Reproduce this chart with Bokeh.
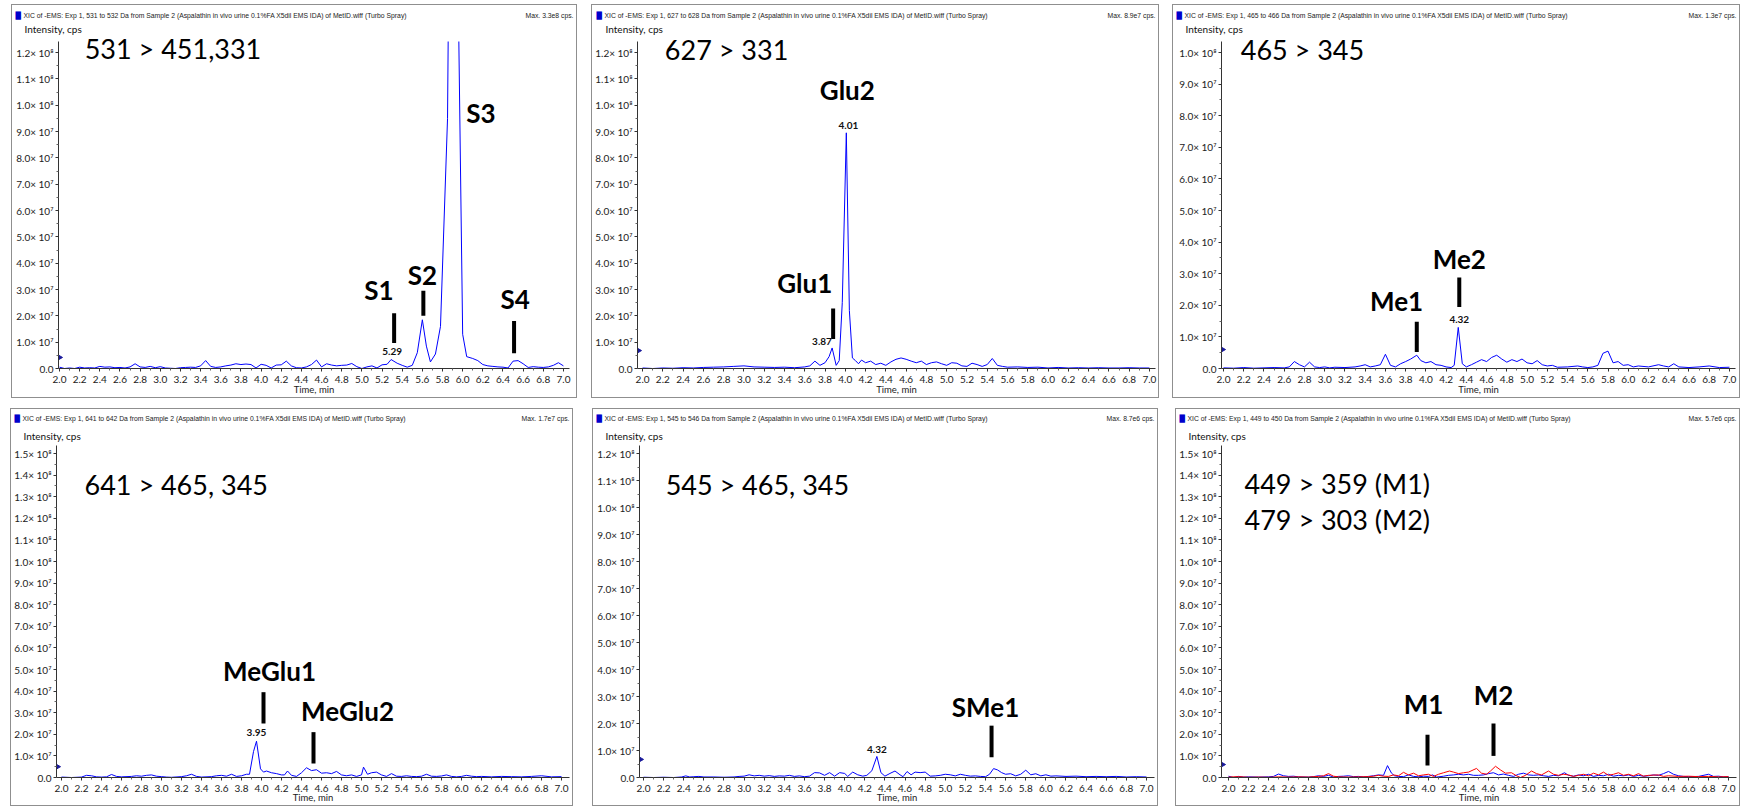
import math
from bokeh.plotting import figure
from bokeh.models import FixedTicker, PrintfTickFormatter
from bokeh.layouts import row, column
from bokeh.embed import file_html
from bokeh.resources import INLINE
from bokeh.core.properties import value

FONT = "Lato"
SMALL_FONT = "Liberation Sans"

# ---------------- data: (retention time [min], intensity [1e7 cps]) ----------------
S_TRACE = [(2.00, 0.05), (2.05, 0.00), (2.10, 0.02), (2.15, 0.00), (2.20, 0.05), (2.25, 0.02),
           (2.30, 0.03), (2.35, 0.02), (2.40, 0.08), (2.45, 0.05), (2.50, 0.06), (2.55, 0.03),
           (2.60, 0.04), (2.65, 0.02), (2.70, 0.06), (2.75, 0.18), (2.80, 0.06), (2.85, 0.04),
           (2.90, 0.08), (2.95, 0.03), (3.00, 0.07), (3.05, 0.02), (3.10, 0.01), (3.15, 0.00),
           (3.20, 0.03), (3.25, 0.04), (3.30, 0.05), (3.35, 0.04), (3.40, 0.10), (3.45, 0.30),
           (3.50, 0.08), (3.55, 0.04), (3.60, 0.06), (3.65, 0.10), (3.70, 0.13), (3.75, 0.18),
           (3.80, 0.15), (3.85, 0.17), (3.90, 0.15), (3.95, 0.02), (4.00, 0.16), (4.05, 0.12),
           (4.10, 0.02), (4.15, 0.13), (4.20, 0.14), (4.25, 0.28), (4.30, 0.10), (4.35, 0.03),
           (4.40, 0.02), (4.45, 0.06), (4.50, 0.15), (4.55, 0.32), (4.60, 0.06), (4.65, 0.18),
           (4.70, 0.13), (4.75, 0.10), (4.80, 0.12), (4.85, 0.13), (4.90, 0.19), (4.95, 0.07),
           (5.00, 0.00), (5.05, 0.06), (5.10, 0.10), (5.15, 0.02), (5.20, 0.14), (5.25, 0.16),
           (5.29, 0.34), (5.35, 0.20), (5.40, 0.12), (5.45, 0.05), (5.50, 0.12), (5.55, 0.60),
           (5.60, 1.85), (5.64, 0.85), (5.68, 0.25), (5.73, 0.55), (5.78, 1.60), (5.85, 9.50),
           (5.90, 33.0), (5.96, 13.0), (6.00, 1.30), (6.04, 0.45), (6.10, 0.38), (6.15, 0.30),
           (6.20, 0.15), (6.25, 0.10), (6.30, 0.08), (6.35, 0.06), (6.40, 0.05), (6.45, 0.02),
           (6.50, 0.28), (6.55, 0.30), (6.60, 0.18), (6.65, 0.04), (6.70, 0.07), (6.75, 0.05),
           (6.80, 0.04), (6.85, 0.06), (6.90, 0.12), (6.95, 0.22), (7.00, 0.10)]

GLU_TRACE = [(2.00, 0.02), (2.10, 0.00), (2.20, 0.02), (2.30, 0.01), (2.40, 0.03), (2.50, 0.02),
             (2.60, 0.04), (2.70, 0.05), (2.80, 0.06), (2.90, 0.08), (3.00, 0.10), (3.10, 0.06),
             (3.20, 0.05), (3.30, 0.04), (3.40, 0.05), (3.50, 0.03), (3.60, 0.06), (3.65, 0.10),
             (3.70, 0.28), (3.75, 0.12), (3.80, 0.22), (3.84, 0.45), (3.87, 0.78), (3.91, 0.12),
             (3.94, 0.30), (3.97, 2.50), (4.01, 8.95), (4.04, 2.20), (4.07, 0.40), (4.10, 0.30),
             (4.13, 0.18), (4.16, 0.32), (4.20, 0.22), (4.25, 0.28), (4.30, 0.15), (4.35, 0.20),
             (4.40, 0.12), (4.45, 0.25), (4.50, 0.35), (4.55, 0.40), (4.60, 0.35), (4.65, 0.28),
             (4.70, 0.22), (4.75, 0.28), (4.80, 0.15), (4.85, 0.22), (4.90, 0.25), (4.95, 0.18),
             (5.00, 0.12), (5.05, 0.22), (5.10, 0.20), (5.15, 0.10), (5.20, 0.08), (5.25, 0.20),
             (5.30, 0.15), (5.35, 0.08), (5.40, 0.15), (5.45, 0.38), (5.50, 0.12), (5.55, 0.08),
             (5.60, 0.05), (5.70, 0.06), (5.80, 0.04), (5.90, 0.05), (6.00, 0.02), (6.10, 0.04),
             (6.20, 0.02), (6.30, 0.03), (6.40, 0.02), (6.50, 0.03), (6.60, 0.02), (6.70, 0.02),
             (6.80, 0.03), (6.90, 0.02), (7.00, 0.02)]

ME_TRACE = [(2.00, 0.02), (2.10, 0.01), (2.20, 0.03), (2.30, 0.01), (2.40, 0.02), (2.50, 0.03),
            (2.60, 0.02), (2.65, 0.05), (2.70, 0.22), (2.75, 0.12), (2.80, 0.05), (2.85, 0.20),
            (2.90, 0.05), (2.95, 0.03), (3.00, 0.05), (3.05, 0.02), (3.10, 0.04), (3.20, 0.03),
            (3.30, 0.05), (3.35, 0.08), (3.40, 0.12), (3.45, 0.05), (3.50, 0.08), (3.55, 0.12),
            (3.60, 0.45), (3.65, 0.10), (3.70, 0.05), (3.75, 0.15), (3.80, 0.22), (3.85, 0.30),
            (3.91, 0.42), (3.95, 0.25), (4.00, 0.18), (4.05, 0.22), (4.10, 0.12), (4.15, 0.10),
            (4.20, 0.05), (4.25, 0.03), (4.28, 0.10), (4.32, 1.30), (4.36, 0.15), (4.40, 0.05),
            (4.45, 0.12), (4.50, 0.20), (4.55, 0.28), (4.60, 0.22), (4.65, 0.35), (4.70, 0.42),
            (4.75, 0.30), (4.80, 0.20), (4.85, 0.28), (4.90, 0.22), (4.95, 0.30), (5.00, 0.18),
            (5.05, 0.15), (5.10, 0.25), (5.15, 0.12), (5.20, 0.08), (5.25, 0.10), (5.30, 0.04),
            (5.40, 0.05), (5.50, 0.08), (5.55, 0.05), (5.60, 0.03), (5.65, 0.05), (5.70, 0.10),
            (5.75, 0.48), (5.80, 0.55), (5.85, 0.18), (5.90, 0.22), (5.95, 0.10), (6.00, 0.12),
            (6.05, 0.05), (6.10, 0.08), (6.20, 0.05), (6.30, 0.12), (6.35, 0.08), (6.40, 0.05),
            (6.45, 0.15), (6.50, 0.05), (6.60, 0.03), (6.70, 0.05), (6.80, 0.08), (6.90, 0.03),
            (7.00, 0.04)]

MEGLU_TRACE = [(2.00, 0.02), (2.10, 0.00), (2.20, 0.02), (2.25, 0.10), (2.30, 0.08), (2.35, 0.03),
               (2.40, 0.02), (2.45, 0.03), (2.50, 0.14), (2.55, 0.05), (2.60, 0.03), (2.70, 0.05),
               (2.75, 0.08), (2.80, 0.06), (2.85, 0.10), (2.90, 0.12), (2.95, 0.06), (3.00, 0.04),
               (3.05, 0.02), (3.10, 0.01), (3.20, 0.04), (3.25, 0.08), (3.30, 0.15), (3.35, 0.05),
               (3.40, 0.02), (3.50, 0.04), (3.55, 0.08), (3.60, 0.10), (3.65, 0.06), (3.70, 0.15),
               (3.75, 0.05), (3.80, 0.08), (3.85, 0.15), (3.88, 0.15), (3.92, 1.20), (3.95, 1.68),
               (3.99, 0.40), (4.02, 0.25), (4.05, 0.30), (4.10, 0.22), (4.15, 0.18), (4.20, 0.12),
               (4.23, 0.12), (4.26, 0.30), (4.30, 0.10), (4.35, 0.05), (4.40, 0.22), (4.45, 0.45),
               (4.50, 0.32), (4.55, 0.36), (4.60, 0.20), (4.65, 0.22), (4.70, 0.18), (4.75, 0.28),
               (4.80, 0.12), (4.85, 0.08), (4.90, 0.12), (4.95, 0.05), (5.00, 0.12), (5.02, 0.48),
               (5.06, 0.15), (5.10, 0.22), (5.15, 0.25), (5.20, 0.12), (5.25, 0.05), (5.30, 0.18),
               (5.35, 0.06), (5.40, 0.05), (5.45, 0.08), (5.50, 0.05), (5.55, 0.04), (5.60, 0.06),
               (5.65, 0.15), (5.70, 0.06), (5.75, 0.05), (5.80, 0.07), (5.85, 0.12), (5.90, 0.05),
               (5.95, 0.03), (6.00, 0.05), (6.05, 0.10), (6.10, 0.06), (6.15, 0.04), (6.20, 0.05),
               (6.30, 0.03), (6.40, 0.05), (6.50, 0.04), (6.60, 0.03), (6.70, 0.05), (6.80, 0.08),
               (6.90, 0.03), (7.00, 0.04)]

SME_TRACE = [(2.00, 0.01), (2.10, 0.00), (2.20, 0.01), (2.30, 0.00), (2.38, 0.02), (2.42, 0.06),
             (2.46, 0.02), (2.50, 0.03), (2.55, 0.04), (2.60, 0.02), (2.70, 0.02), (2.80, 0.01),
             (2.90, 0.02), (2.95, 0.04), (3.00, 0.05), (3.05, 0.10), (3.10, 0.06), (3.15, 0.08),
             (3.20, 0.05), (3.25, 0.07), (3.30, 0.04), (3.35, 0.06), (3.40, 0.05), (3.45, 0.08),
             (3.50, 0.04), (3.55, 0.06), (3.60, 0.03), (3.65, 0.05), (3.70, 0.18), (3.75, 0.17),
             (3.80, 0.08), (3.85, 0.18), (3.90, 0.05), (3.95, 0.18), (4.00, 0.15), (4.03, 0.04),
             (4.08, 0.20), (4.13, 0.10), (4.18, 0.05), (4.22, 0.08), (4.27, 0.25), (4.32, 0.78),
             (4.36, 0.18), (4.40, 0.05), (4.45, 0.15), (4.50, 0.24), (4.55, 0.10), (4.58, 0.03),
             (4.62, 0.22), (4.66, 0.10), (4.70, 0.20), (4.75, 0.18), (4.80, 0.20), (4.85, 0.05),
             (4.90, 0.06), (4.95, 0.08), (5.00, 0.12), (5.05, 0.10), (5.10, 0.06), (5.15, 0.12),
             (5.20, 0.08), (5.25, 0.05), (5.30, 0.06), (5.35, 0.04), (5.40, 0.03), (5.44, 0.12),
             (5.48, 0.33), (5.52, 0.28), (5.56, 0.18), (5.60, 0.12), (5.65, 0.14), (5.70, 0.06),
             (5.75, 0.12), (5.80, 0.27), (5.85, 0.10), (5.90, 0.14), (5.95, 0.06), (6.00, 0.10),
             (6.05, 0.05), (6.10, 0.06), (6.20, 0.04), (6.30, 0.05), (6.40, 0.03), (6.50, 0.04),
             (6.60, 0.03), (6.70, 0.04), (6.80, 0.02), (6.90, 0.03), (7.00, 0.02)]

M1_TRACE = [(2.00, 0.06), (2.05, 0.00), (2.10, 0.05), (2.15, 0.02), (2.20, 0.03), (2.30, 0.02),
            (2.40, 0.03), (2.45, 0.05), (2.50, 0.16), (2.55, 0.08), (2.60, 0.05), (2.65, 0.06),
            (2.70, 0.03), (2.80, 0.02), (2.85, 0.04), (2.90, 0.08), (2.95, 0.05), (3.00, 0.10),
            (3.05, 0.02), (3.10, 0.05), (3.15, 0.06), (3.20, 0.08), (3.25, 0.04), (3.30, 0.05),
            (3.35, 0.03), (3.40, 0.05), (3.45, 0.08), (3.50, 0.12), (3.55, 0.10), (3.59, 0.55),
            (3.63, 0.20), (3.66, 0.08), (3.70, 0.05), (3.75, 0.04), (3.80, 0.12), (3.85, 0.05),
            (3.90, 0.03), (3.95, 0.06), (4.00, 0.05), (4.04, 0.12), (4.08, 0.02), (4.15, 0.06),
            (4.20, 0.10), (4.25, 0.12), (4.30, 0.15), (4.35, 0.12), (4.40, 0.15), (4.45, 0.10),
            (4.50, 0.10), (4.55, 0.12), (4.60, 0.18), (4.65, 0.22), (4.70, 0.12), (4.75, 0.16),
            (4.80, 0.10), (4.85, 0.05), (4.90, 0.15), (4.95, 0.20), (5.00, 0.12), (5.05, 0.10),
            (5.10, 0.12), (5.15, 0.08), (5.20, 0.05), (5.25, 0.10), (5.30, 0.08), (5.36, 0.22),
            (5.40, 0.10), (5.45, 0.06), (5.50, 0.12), (5.55, 0.08), (5.60, 0.15), (5.65, 0.05),
            (5.70, 0.10), (5.75, 0.08), (5.80, 0.15), (5.85, 0.06), (5.90, 0.10), (5.95, 0.08),
            (6.00, 0.12), (6.05, 0.05), (6.10, 0.10), (6.15, 0.06), (6.20, 0.08), (6.25, 0.12),
            (6.30, 0.10), (6.35, 0.18), (6.40, 0.28), (6.45, 0.15), (6.50, 0.08), (6.55, 0.05),
            (6.60, 0.04), (6.70, 0.05), (6.80, 0.15), (6.85, 0.05), (6.90, 0.06), (6.95, 0.03),
            (7.00, 0.04)]

M2_TRACE = [(2.00, 0.02), (2.10, 0.04), (2.20, 0.01), (2.30, 0.02), (2.40, 0.01), (2.50, 0.03),
            (2.60, 0.02), (2.70, 0.03), (2.80, 0.02), (2.90, 0.05), (2.95, 0.08), (3.00, 0.18),
            (3.05, 0.06), (3.10, 0.03), (3.20, 0.02), (3.30, 0.03), (3.40, 0.04), (3.45, 0.06),
            (3.50, 0.10), (3.55, 0.06), (3.60, 0.05), (3.65, 0.12), (3.70, 0.08), (3.75, 0.24),
            (3.80, 0.12), (3.85, 0.20), (3.90, 0.08), (3.95, 0.12), (4.00, 0.15), (4.05, 0.05),
            (4.10, 0.15), (4.15, 0.22), (4.21, 0.30), (4.25, 0.25), (4.30, 0.18), (4.35, 0.22),
            (4.40, 0.25), (4.48, 0.42), (4.53, 0.20), (4.58, 0.15), (4.62, 0.30), (4.67, 0.52),
            (4.72, 0.35), (4.77, 0.20), (4.83, 0.22), (4.88, 0.08), (4.92, 0.00), (4.97, 0.10),
            (5.03, 0.30), (5.08, 0.18), (5.13, 0.12), (5.20, 0.30), (5.25, 0.15), (5.30, 0.10),
            (5.35, 0.15), (5.40, 0.12), (5.45, 0.05), (5.50, 0.10), (5.55, 0.15), (5.60, 0.08),
            (5.65, 0.20), (5.70, 0.12), (5.75, 0.25), (5.80, 0.10), (5.85, 0.15), (5.90, 0.22),
            (5.95, 0.10), (6.00, 0.15), (6.05, 0.08), (6.10, 0.18), (6.15, 0.06), (6.20, 0.10),
            (6.30, 0.12), (6.35, 0.05), (6.40, 0.08), (6.50, 0.05), (6.60, 0.06), (6.70, 0.04),
            (6.80, 0.05), (6.90, 0.03), (7.00, 0.04)]

# ---------------- texts ----------------
TITLES = [
    "XIC of -EMS: Exp 1, 531 to 532 Da from Sample 2 (Aspalathin in vivo urine 0.1%FA X5dil EMS IDA) of MetID.wiff (Turbo Spray)",
    "XIC of -EMS: Exp 1, 627 to 628 Da from Sample 2 (Aspalathin in vivo urine 0.1%FA X5dil EMS IDA) of MetID.wiff (Turbo Spray)",
    "XIC of -EMS: Exp 1, 465 to 466 Da from Sample 2 (Aspalathin in vivo urine 0.1%FA X5dil EMS IDA) of MetID.wiff (Turbo Spray)",
    "XIC of -EMS: Exp 1, 641 to 642 Da from Sample 2 (Aspalathin in vivo urine 0.1%FA X5dil EMS IDA) of MetID.wiff (Turbo Spray)",
    "XIC of -EMS: Exp 1, 545 to 546 Da from Sample 2 (Aspalathin in vivo urine 0.1%FA X5dil EMS IDA) of MetID.wiff (Turbo Spray)",
    "XIC of -EMS: Exp 1, 449 to 450 Da from Sample 2 (Aspalathin in vivo urine 0.1%FA X5dil EMS IDA) of MetID.wiff (Turbo Spray)",
]
MAX_LABELS = ["Max. 3.3e8 cps.", "Max. 8.9e7 cps.", "Max. 1.3e7 cps.",
              "Max. 1.7e7 cps.", "Max. 8.7e6 cps.", "Max. 5.7e6 cps."]
Y_TICK_LABELS = ["0.0", "1.0× 10⁷", "2.0× 10⁷", "3.0× 10⁷", "4.0× 10⁷", "5.0× 10⁷",
                 "6.0× 10⁷", "7.0× 10⁷", "8.0× 10⁷", "9.0× 10⁷", "1.0× 10⁸", "1.1× 10⁸",
                 "1.2× 10⁸", "1.3× 10⁸", "1.4× 10⁸", "1.5× 10⁸"]
Y_TOP_TICK = [12, 12, 10, 15, 12, 15]
TRANSITIONS = [["531 > 451,331"], ["627 > 331"], ["465 > 345"],
               ["641 > 465, 345"], ["545 > 465, 345"], ["449 > 359 (M1)", "479 > 303 (M2)"]]
TRANS_X = [2.25, 2.22, 2.17, 2.23, 2.22, 2.16]
TRANS_Y = [[12.15], [12.1], [10.1], [13.55], [10.85], [13.6, 11.95]]

PEAK_NAMES = [["S1", "S2", "S3", "S4"], ["Glu2", "Glu1"], ["Me1", "Me2"],
              ["MeGlu1", "MeGlu2"], ["SMe1"], ["M1", "M2"]]
PEAK_NAME_X = [[5.17, 5.60, 6.18, 6.52], [4.02, 3.60], [3.71, 4.33], [4.08, 4.86], [5.40], [3.95, 4.65]]
PEAK_NAME_Y = [[3.00, 3.55, 9.70, 2.65], [10.57, 3.25], [2.15, 3.48], [4.93, 3.10], [2.62], [3.40, 3.83]]
BAR_X = [[5.32, 5.61, 6.51], [3.88], [3.91, 4.33], [4.02, 4.52], [5.46], [3.99, 4.65]]
BAR_Y0 = [[0.97, 2.00, 0.58], [1.12], [0.52, 1.95], [2.50, 0.65], [0.75], [0.55, 1.00]]
BAR_Y1 = [[2.10, 2.95, 1.80], [2.28], [1.48, 2.88], [3.95, 2.10], [1.92], [1.98, 2.50]]
RT_TEXT = [["5.29"], ["4.01", "3.87"], ["4.32"], ["3.95"], ["4.32"], []]
RT_X = [[5.30], [4.03, 3.77], [4.33], [3.95], [4.32], []]
RT_Y = [[0.66], [9.22, 1.02], [1.54], [2.07], [1.04], []]
THRESH_Y = [0.42, 0.68, 0.60, 0.50, 0.67, 0.60]

TRACES = [[(S_TRACE, "#0000ff")], [(GLU_TRACE, "#0000ff")], [(ME_TRACE, "#0000ff")],
          [(MEGLU_TRACE, "#0000ff")], [(SME_TRACE, "#0000ff")],
          [(M1_TRACE, "#0000ff"), (M2_TRACE, "#ff0000")]]

X_TICKS = [round(2.0 + 0.2 * i, 1) for i in range(26)]
X_MINOR = [round(2.1 + 0.2 * i, 1) for i in range(25)]

# ---------------- layout (px) ----------------
MARGIN_LEFT = [11, 14, 13, 10, 19, 17]
MARGIN_TOP = [4, 4, 4, 10, 10, 10]
WIDTHS = [566, 568, 568, 563, 566, 565]
HEIGHTS = [394, 394, 394, 398, 398, 398]
LEFTS = [46, 44, 48, 45, 46, 45]
RIGHTS = [9, 5, 6, 5, 5, 5]
X_STARTS = [1.99, 1.95, 1.98, 1.95, 1.96, 1.93]
X_ENDS = [7.06, 7.06, 7.06, 7.08, 7.08, 7.08]
TOPS = [36, 36, 36, 36, 36, 36]
BOTTOMS = [31, 31, 31, 30, 30, 30]
TOP_GAP = [11, 11, 11, 8, 8, 8]
TITLE_Y = [10, 10, 10, 9, 9, 9]
INTENSITY_Y = [23, 23, 23, 26, 26, 26]
TIME_DY = [21, 21, 21, 20, 20, 20]


def make_panel(i):
    width, height = WIDTHS[i], HEIGHTS[i]
    left, right, top, bottom = LEFTS[i], RIGHTS[i], TOPS[i], BOTTOMS[i]
    x0, x1 = X_STARTS[i], X_ENDS[i]
    fw = width - left - right
    fh = height - top - bottom
    n = Y_TOP_TICK[i]
    gap = TOP_GAP[i]
    y_end = n + gap * n / (fh - gap)

    def dx(px):  # px from the panel's left edge -> data x
        return x0 + (px - left) / fw * (x1 - x0)

    def dy(py):  # py from the panel's top edge -> data y
        return y_end - (py - top) / fh * y_end

    p = figure(width=width, height=height, x_range=(x0, x1), y_range=(0, y_end),
               output_backend="svg", toolbar_location=None, title=None,
               min_border_left=left, min_border_right=right,
               min_border_top=top, min_border_bottom=bottom,
               margin=(MARGIN_TOP[i], 0, 0, MARGIN_LEFT[i]),
               styles={"border": "1px solid #8f8f8f"})

    def text(x, y, s, font=FONT, size="10px", style="normal", align="left", color="#111111"):
        p.text(x=[x], y=[y], text=[s], text_font=value(font), text_font_size=size,
               text_font_style=style, text_align=align, text_baseline="middle",
               text_color=color, level="overlay")

    p.xgrid.visible = False
    p.ygrid.visible = False
    p.outline_line_color = None
    p.background_fill_color = "white"
    p.border_fill_color = "white"

    xa = p.xaxis[0]
    xa.ticker = FixedTicker(ticks=X_TICKS, minor_ticks=X_MINOR)
    xa.formatter = PrintfTickFormatter(format="%.1f")
    xa.major_label_text_font = FONT
    xa.major_label_text_font_size = "10px"
    xa.major_label_text_color = "#222222"
    xa.major_tick_out = 3
    xa.major_tick_in = 0
    xa.minor_tick_out = 2
    xa.minor_tick_in = 0
    xa.major_label_standoff = 4
    xa.axis_line_color = "#333333"
    xa.major_tick_line_color = "#333333"
    xa.minor_tick_line_color = "#666666"

    ya = p.yaxis[0]
    ya.ticker = FixedTicker(ticks=list(range(n + 1)), minor_ticks=[k + 0.5 for k in range(n)])
    ya.major_label_overrides = {k: Y_TICK_LABELS[k] for k in range(n + 1)}
    ya.major_label_text_font = FONT
    ya.major_label_text_font_size = "10px"
    ya.major_label_text_color = "#222222"
    ya.major_tick_out = 3
    ya.major_tick_in = 0
    ya.minor_tick_out = 2
    ya.minor_tick_in = 0
    ya.major_label_standoff = 2
    ya.axis_line_color = "#333333"
    ya.major_tick_line_color = "#333333"
    ya.minor_tick_line_color = "#666666"

    # chromatogram traces
    for trace, color in TRACES[i]:
        t = [a for a, b in trace]
        v = [b for a, b in trace]
        p.line(t, v, line_color=color, line_width=1)

    # threshold marker at the y axis
    p.scatter([x0], [THRESH_Y[i]], marker="triangle", size=7, angle=-math.pi / 2,
              color="#1a1a9a")

    # peak marker bars
    p.segment(x0=BAR_X[i], y0=BAR_Y0[i], x1=BAR_X[i], y1=BAR_Y1[i],
              line_color="black", line_width=4, line_cap="butt")

    for name, x, y in zip(PEAK_NAMES[i], PEAK_NAME_X[i], PEAK_NAME_Y[i]):
        text(x, y, name, size="26px", style="bold", align="center", color="black")
    for s, x, y in zip(RT_TEXT[i], RT_X[i], RT_Y[i]):
        text(x, y, s, size="10px", style="bold", align="center")
    for s, y in zip(TRANSITIONS[i], TRANS_Y[i]):
        text(TRANS_X[i], y, s, size="27px", color="black")

    # header / footer texts
    text(dx(3), dy(TITLE_Y[i]), "█", font="DejaVu Sans", size="7px", color="#0000cc")
    text(dx(11), dy(TITLE_Y[i]), TITLES[i], font=SMALL_FONT, size="6.8px", color="#222222")
    text(dx(width - 5), dy(TITLE_Y[i]), MAX_LABELS[i], font=SMALL_FONT, size="6.8px",
         align="right", color="#222222")
    text(dx(12), dy(INTENSITY_Y[i]), "Intensity, cps", size="10px")
    text(dx(left + fw / 2), dy(top + fh + TIME_DY[i]), "Time, min", size="9.5px",
         align="center", color="#222222")
    return p


panels = [make_panel(i) for i in range(6)]
layout = column(row(panels[0], panels[1], panels[2], spacing=0),
                row(panels[3], panels[4], panels[5], spacing=0), spacing=0)

open("out.html", "w").write(file_html(layout, INLINE, title="XIC chromatograms"))
